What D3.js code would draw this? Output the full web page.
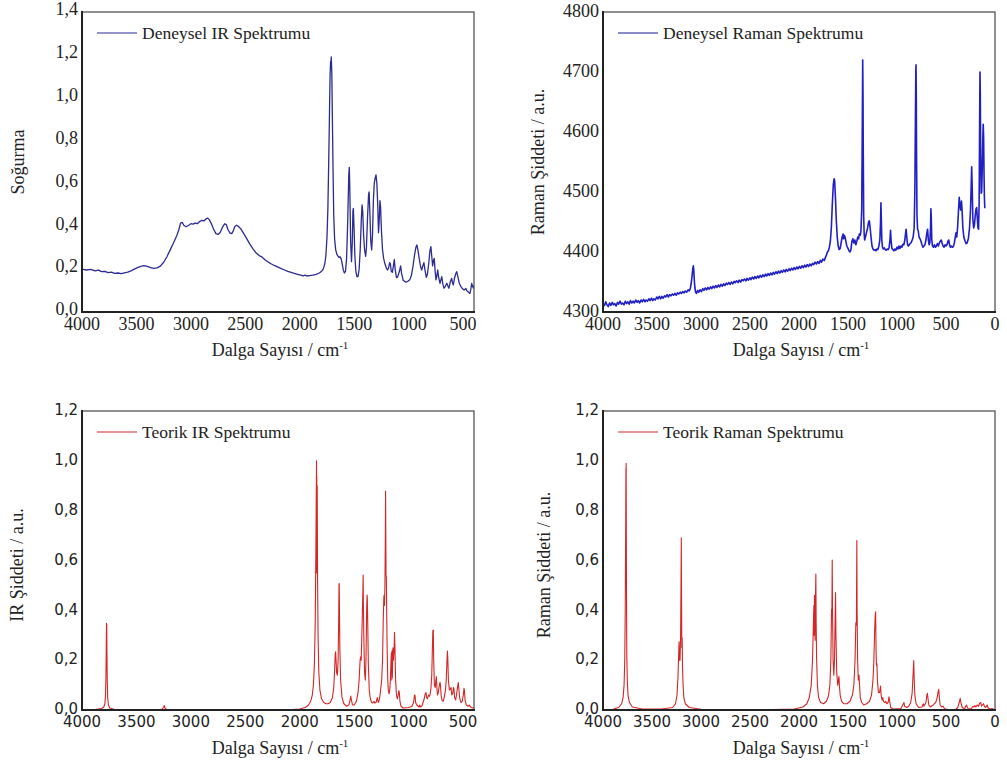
<!DOCTYPE html>
<html>
<head>
<meta charset="utf-8">
<script src="https://cdn.jsdelivr.net/npm/d3@7/dist/d3.min.js"></script>
<style>
  body { margin: 0; background: #fff; }
  svg { display: block; }
</style>
</head>
<body>
<svg id="chart" width="1007" height="767"></svg>
<script>
// ---- Spectra: [wavenumber (cm-1), intensity] ----
const irExp = [
  [4000,0.200],[3960,0.196],[3920,0.199],[3880,0.192],[3850,0.195],[3820,0.188],[3790,0.190],[3760,0.184],
  [3730,0.186],[3700,0.180],[3670,0.182],[3640,0.179],[3610,0.183],[3580,0.186],[3550,0.192],[3520,0.200],
  [3490,0.207],[3460,0.213],[3430,0.216],[3400,0.213],[3370,0.207],[3340,0.204],[3310,0.206],[3280,0.214],
  [3250,0.232],[3220,0.258],[3190,0.290],[3160,0.322],[3130,0.356],[3110,0.385],[3095,0.415],[3080,0.418],
  [3065,0.405],[3045,0.398],[3020,0.405],[3000,0.412],[2980,0.410],[2960,0.415],[2940,0.412],[2920,0.422],
  [2900,0.428],[2880,0.425],[2860,0.435],[2845,0.438],[2830,0.430],[2810,0.410],[2790,0.385],[2770,0.366],
  [2750,0.362],[2730,0.372],[2710,0.395],[2690,0.412],[2675,0.408],[2660,0.385],[2640,0.368],[2625,0.366],
  [2610,0.380],[2595,0.400],[2580,0.405],[2565,0.400],[2545,0.390],[2520,0.370],[2490,0.345],[2460,0.318],
  [2430,0.295],[2400,0.275],[2370,0.262],[2350,0.258],[2320,0.244],[2290,0.233],[2260,0.224],[2230,0.216],
  [2200,0.209],[2170,0.202],[2140,0.196],[2110,0.190],[2080,0.185],[2050,0.180],[2020,0.176],[1990,0.172],
  [1970,0.169],[1950,0.172],[1935,0.168],[1910,0.170],[1880,0.172],[1850,0.176],[1820,0.182],[1800,0.190],
  [1785,0.200],[1770,0.225],[1760,0.265],[1750,0.350],[1742,0.480],[1735,0.680],[1728,0.900],[1722,1.100],
  [1717,1.170],[1714,1.150],[1711,1.190],[1706,1.120],[1700,0.880],[1694,0.650],[1688,0.450],[1680,0.340],
  [1670,0.290],[1660,0.270],[1650,0.262],[1640,0.255],[1630,0.258],[1620,0.248],[1610,0.225],[1600,0.195],
  [1590,0.182],[1580,0.190],[1570,0.250],[1560,0.420],[1550,0.640],[1545,0.675],[1540,0.560],[1533,0.330],
  [1525,0.235],[1518,0.320],[1512,0.470],[1508,0.484],[1502,0.400],[1494,0.260],[1485,0.190],[1475,0.165],
  [1465,0.165],[1455,0.200],[1445,0.290],[1435,0.430],[1428,0.500],[1422,0.470],[1414,0.360],[1405,0.290],
  [1395,0.260],[1388,0.300],[1378,0.440],[1368,0.550],[1363,0.560],[1356,0.460],[1348,0.330],[1340,0.290],
  [1332,0.360],[1324,0.520],[1316,0.600],[1308,0.625],[1300,0.640],[1292,0.600],[1284,0.500],[1277,0.370],
  [1271,0.420],[1264,0.520],[1258,0.490],[1250,0.380],[1240,0.290],[1230,0.250],[1218,0.225],[1205,0.205],
  [1195,0.196],[1185,0.205],[1175,0.230],[1168,0.225],[1160,0.190],[1150,0.185],[1140,0.215],[1132,0.245],
  [1124,0.200],[1112,0.160],[1100,0.165],[1085,0.190],[1074,0.215],[1065,0.180],[1050,0.148],[1030,0.140],
  [1010,0.142],[990,0.150],[975,0.170],[960,0.215],[945,0.270],[932,0.305],[925,0.313],[915,0.290],
  [900,0.240],[890,0.210],[880,0.196],[870,0.215],[860,0.230],[850,0.195],[838,0.162],[828,0.175],
  [815,0.230],[805,0.285],[796,0.305],[788,0.260],[780,0.215],[772,0.240],[765,0.250],[757,0.190],
  [749,0.150],[741,0.170],[733,0.196],[724,0.160],[712,0.134],[704,0.150],[696,0.165],[686,0.130],
  [675,0.111],[663,0.120],[650,0.134],[640,0.122],[630,0.111],[618,0.140],[605,0.157],[597,0.135],
  [590,0.126],[578,0.160],[568,0.178],[559,0.188],[550,0.170],[535,0.134],[520,0.118],[505,0.108],
  [490,0.103],[475,0.110],[467,0.100],[455,0.095],[445,0.090],[437,0.087],[428,0.110],[421,0.134],
  [414,0.120],[405,0.111],[400,0.125]
];

const ramanExp = [
  [4000,4314],[3985,4311],[3972,4317],[3960,4312],[3946,4309],[3933,4315],[3920,4311],[3905,4316],
  [3893,4312],[3880,4314],[3866,4310],[3852,4316],[3840,4313],[3826,4318],[3812,4313],[3800,4315],
  [3786,4312],[3772,4318],[3760,4314],[3746,4317],[3733,4313],[3720,4319],[3706,4315],[3692,4318],
  [3680,4315],[3666,4320],[3652,4316],[3640,4319],[3626,4315],[3612,4320],[3600,4317],[3585,4321],
  [3572,4317],[3560,4320],[3546,4318],[3532,4322],[3520,4319],[3505,4323],[3492,4319],[3480,4322],
  [3466,4320],[3452,4325],[3440,4322],[3426,4326],[3412,4322],[3400,4326],[3386,4323],[3372,4327],
  [3360,4325],[3346,4329],[3332,4325],[3320,4329],[3306,4327],[3292,4330],[3280,4328],[3266,4331],
  [3252,4328],[3240,4332],[3226,4330],[3212,4333],[3200,4331],[3186,4334],[3172,4332],[3160,4335],
  [3146,4333],[3132,4337],[3120,4335],[3108,4340],[3098,4350],[3090,4362],[3084,4372],[3078,4377],
  [3073,4368],[3068,4352],[3062,4340],[3055,4333],[3046,4331],[3035,4336],[3022,4333],[3010,4337],
  [2996,4334],[2982,4339],[2970,4336],[2956,4340],[2942,4337],[2930,4341],[2916,4338],[2902,4342],
  [2890,4339],[2876,4343],[2862,4340],[2850,4344],[2836,4341],[2822,4345],[2810,4342],[2796,4346],
  [2782,4343],[2770,4347],[2756,4344],[2742,4348],[2730,4346],[2716,4349],[2702,4346],[2690,4350],
  [2676,4347],[2662,4351],[2650,4349],[2636,4352],[2622,4349],[2610,4353],[2596,4350],[2582,4354],
  [2570,4352],[2556,4355],[2542,4352],[2530,4356],[2516,4353],[2502,4357],[2490,4354],[2476,4358],
  [2462,4355],[2450,4359],[2436,4356],[2422,4360],[2410,4357],[2396,4361],[2382,4358],[2370,4362],
  [2356,4359],[2342,4363],[2330,4360],[2316,4364],[2302,4361],[2290,4365],[2276,4362],[2262,4366],
  [2250,4363],[2236,4367],[2222,4364],[2210,4368],[2196,4365],[2182,4369],[2170,4366],[2156,4370],
  [2142,4367],[2130,4371],[2116,4368],[2102,4372],[2090,4369],[2076,4373],[2062,4370],[2050,4374],
  [2036,4371],[2022,4375],[2010,4372],[1996,4376],[1982,4373],[1970,4377],[1956,4374],[1942,4378],
  [1930,4375],[1916,4379],[1902,4376],[1890,4380],[1876,4377],[1862,4381],[1850,4379],[1836,4383],
  [1822,4380],[1810,4384],[1796,4381],[1782,4386],[1770,4383],[1756,4388],[1742,4386],[1730,4391],
  [1720,4395],[1710,4400],[1700,4402],[1690,4408],[1680,4418],[1670,4440],[1660,4480],[1650,4512],
  [1642,4522],[1636,4518],[1628,4490],[1620,4455],[1610,4425],[1600,4410],[1590,4404],[1580,4406],
  [1570,4415],[1560,4425],[1550,4430],[1545,4422],[1538,4428],[1530,4425],[1522,4418],[1512,4410],
  [1500,4406],[1490,4402],[1480,4400],[1470,4404],[1460,4418],[1450,4422],[1440,4415],[1430,4420],
  [1420,4412],[1410,4418],[1400,4425],[1392,4422],[1385,4430],[1375,4428],[1368,4435],[1360,4470],
  [1356,4560],[1352,4660],[1350,4720],[1347,4665],[1344,4560],[1340,4460],[1335,4430],[1330,4420],
  [1322,4425],[1312,4432],[1300,4440],[1290,4450],[1282,4452],[1274,4440],[1265,4425],[1255,4410],
  [1245,4405],[1235,4403],[1225,4404],[1215,4402],[1205,4405],[1195,4404],[1185,4410],[1175,4420],
  [1168,4450],[1164,4482],[1160,4455],[1155,4420],[1148,4408],[1140,4405],[1130,4407],[1120,4404],
  [1110,4403],[1100,4405],[1090,4404],[1080,4408],[1072,4420],[1066,4436],[1060,4418],[1052,4406],
  [1042,4404],[1032,4402],[1022,4405],[1012,4403],[1000,4408],[990,4405],[980,4410],[970,4406],
  [960,4410],[950,4408],[940,4413],[930,4412],[920,4420],[912,4432],[907,4438],[900,4425],
  [892,4412],[884,4410],[875,4412],[865,4414],[855,4416],[845,4420],[835,4425],[825,4440],
  [818,4500],[812,4620],[808,4700],[806,4712],[803,4650],[800,4550],[796,4460],[790,4438],
  [783,4435],[775,4425],[765,4422],[755,4418],[745,4412],[735,4408],[725,4410],[715,4412],
  [705,4420],[695,4432],[688,4438],[680,4420],[672,4412],[665,4415],[658,4440],[654,4472],
  [650,4455],[645,4420],[638,4410],[628,4408],[618,4412],[608,4408],[598,4410],[588,4414],
  [578,4410],[568,4415],[558,4418],[548,4420],[540,4415],[530,4410],[520,4408],[510,4412],
  [500,4410],[490,4412],[480,4418],[472,4420],[464,4412],[455,4408],[445,4410],[435,4408],
  [425,4409],[415,4415],[405,4425],[398,4432],[390,4425],[382,4440],[372,4470],[365,4491],
  [358,4478],[350,4470],[342,4485],[336,4470],[328,4440],[318,4425],[305,4418],[295,4414],
  [285,4415],[272,4422],[260,4440],[250,4470],[243,4510],[238,4542],[233,4510],[226,4455],
  [218,4440],[210,4445],[202,4460],[194,4472],[187,4474],[180,4455],[174,4440],[168,4438],
  [162,4480],[158,4580],[155,4660],[153,4700],[150,4665],[146,4560],[141,4498],[136,4500],
  [130,4540],[124,4590],[120,4613],[116,4590],[112,4530],[108,4490],[104,4473]
];

const irTheo = [
  [4000,0],[3880,0.002],[3820,0.006],[3800,0.012],[3790,0.025],[3784,0.06],[3780,0.14],[3777,0.26],
  [3775,0.348],[3774,0.25],[3773,0.345],[3771,0.24],[3768,0.12],[3764,0.05],[3757,0.02],[3745,0.008],
  [3700,0.002],[3300,0.001],[3262,0.004],[3250,0.012],[3245,0.018],[3240,0.010],[3225,0.003],[3150,0.001],
  [2100,0.001],[2000,0.004],[1950,0.010],[1920,0.020],[1900,0.035],[1885,0.06],[1875,0.10],[1866,0.18],
  [1858,0.35],[1852,0.65],[1848,0.90],[1846,1.0],[1845,0.55],[1844,0.94],[1842,0.68],[1840,0.90],
  [1837,0.55],[1832,0.30],[1825,0.15],[1815,0.08],[1800,0.045],[1780,0.03],[1760,0.025],[1740,0.025],
  [1720,0.03],[1700,0.05],[1688,0.09],[1680,0.16],[1675,0.22],[1671,0.234],[1667,0.2],[1662,0.15],
  [1655,0.14],[1648,0.2],[1643,0.35],[1640,0.5],[1638,0.508],[1636,0.42],[1632,0.25],[1625,0.12],
  [1612,0.05],[1595,0.025],[1570,0.015],[1550,0.02],[1538,0.04],[1532,0.056],[1526,0.04],[1515,0.02],
  [1500,0.02],[1480,0.035],[1465,0.07],[1455,0.12],[1446,0.2],[1440,0.214],[1436,0.2],[1430,0.3],
  [1422,0.45],[1418,0.542],[1416,0.43],[1412,0.3],[1405,0.15],[1398,0.12],[1392,0.2],[1386,0.4],
  [1382,0.461],[1380,0.45],[1376,0.35],[1370,0.18],[1362,0.08],[1352,0.045],[1340,0.03],[1330,0.028],
  [1318,0.035],[1312,0.028],[1300,0.03],[1288,0.05],[1280,0.03],[1270,0.04],[1260,0.07],[1248,0.12],
  [1240,0.2],[1234,0.35],[1228,0.45],[1226,0.46],[1222,0.42],[1218,0.5],[1214,0.7],[1212,0.879],
  [1210,0.7],[1208,0.54],[1205,0.535],[1202,0.4],[1198,0.25],[1192,0.12],[1187,0.08],[1180,0.065],
  [1174,0.08],[1168,0.12],[1162,0.2],[1158,0.23],[1155,0.12],[1152,0.24],[1150,0.13],[1146,0.22],
  [1144,0.25],[1140,0.2],[1134,0.24],[1130,0.312],[1126,0.25],[1120,0.12],[1112,0.06],[1104,0.045],
  [1096,0.06],[1090,0.078],[1086,0.07],[1080,0.035],[1070,0.015],[1050,0.008],[1000,0.01],[970,0.015],
  [955,0.03],[946,0.06],[942,0.06],[936,0.03],[925,0.02],[905,0.012],[898,0.02],[893,0.012],
  [880,0.015],[860,0.04],[848,0.065],[841,0.07],[835,0.05],[828,0.045],[818,0.06],[810,0.055],
  [804,0.06],[795,0.09],[788,0.14],[782,0.25],[778,0.32],[776,0.27],[774,0.321],[770,0.2],
  [764,0.1],[756,0.09],[750,0.12],[746,0.134],[742,0.1],[736,0.06],[728,0.07],[718,0.1],
  [712,0.111],[708,0.1],[702,0.06],[694,0.04],[684,0.035],[674,0.05],[662,0.08],[655,0.12],
  [648,0.2],[644,0.237],[640,0.2],[635,0.12],[626,0.08],[618,0.085],[611,0.09],[604,0.06],
  [596,0.065],[589,0.09],[584,0.085],[578,0.05],[568,0.04],[558,0.07],[548,0.1],[544,0.11],
  [540,0.09],[532,0.05],[520,0.03],[508,0.035],[498,0.06],[492,0.087],[488,0.08],[482,0.04],
  [470,0.02],[455,0.015],[444,0.02],[437,0.015],[425,0.01],[410,0.008],[400,0.01]
];

const ramanTheo = [
  [4000,0],[3900,0.003],[3840,0.01],[3810,0.025],[3795,0.05],[3785,0.1],[3778,0.2],[3773,0.4],
  [3769,0.7],[3766,0.97],[3765,0.69],[3764,0.99],[3762,0.7],[3760,0.45],[3757,0.214],[3752,0.12],
  [3745,0.06],[3730,0.03],[3700,0.012],[3600,0.004],[3400,0.004],[3290,0.01],[3260,0.025],[3245,0.06],
  [3235,0.13],[3228,0.22],[3224,0.274],[3220,0.2],[3214,0.2],[3208,0.3],[3204,0.5],[3201,0.691],
  [3199,0.5],[3196,0.25],[3192,0.29],[3189,0.18],[3183,0.1],[3175,0.05],[3160,0.025],[3120,0.01],
  [3000,0.003],[2400,0.001],[2050,0.004],[1960,0.012],[1920,0.025],[1895,0.05],[1875,0.1],[1862,0.2],
  [1853,0.35],[1848,0.42],[1845,0.3],[1842,0.46],[1838,0.4],[1836,0.28],[1833,0.42],[1828,0.546],
  [1825,0.35],[1820,0.2],[1812,0.1],[1800,0.05],[1780,0.03],[1750,0.025],[1720,0.035],[1700,0.055],
  [1685,0.1],[1675,0.2],[1668,0.4],[1664,0.41],[1661,0.602],[1658,0.4],[1652,0.2],[1645,0.14],
  [1638,0.2],[1632,0.35],[1627,0.471],[1623,0.3],[1615,0.15],[1605,0.1],[1598,0.12],[1592,0.134],
  [1588,0.1],[1580,0.06],[1565,0.035],[1540,0.025],[1510,0.025],[1480,0.035],[1455,0.06],[1440,0.1],
  [1428,0.2],[1420,0.35],[1414,0.34],[1410,0.68],[1407,0.4],[1402,0.2],[1395,0.12],[1388,0.14],
  [1382,0.1],[1375,0.05],[1360,0.03],[1340,0.02],[1310,0.025],[1280,0.035],[1260,0.06],[1245,0.12],
  [1236,0.2],[1228,0.32],[1222,0.38],[1218,0.394],[1214,0.25],[1210,0.18],[1205,0.187],[1200,0.12],
  [1190,0.07],[1178,0.07],[1168,0.096],[1162,0.06],[1152,0.04],[1145,0.05],[1138,0.035],[1125,0.03],
  [1115,0.035],[1105,0.025],[1090,0.03],[1082,0.053],[1076,0.04],[1065,0.01],[1040,0.004],[960,0.006],
  [935,0.025],[929,0.03],[922,0.015],[900,0.01],[880,0.015],[860,0.03],[845,0.07],[835,0.15],
  [829,0.198],[825,0.13],[818,0.06],[805,0.025],[780,0.01],[745,0.012],[738,0.02],[731,0.025],
  [725,0.015],[705,0.03],[695,0.06],[690,0.067],[685,0.05],[675,0.02],[660,0.012],[640,0.018],
  [629,0.02],[620,0.025],[605,0.03],[590,0.05],[580,0.075],[574,0.083],[568,0.05],[560,0.02],
  [545,0.012],[530,0.015],[515,0.005],[480,0.002],[400,0.003],[380,0.01],[365,0.03],[355,0.047],
  [348,0.03],[335,0.01],[310,0.005],[300,0.015],[290,0.02],[282,0.01],[270,0.004],[240,0.006],
  [225,0.015],[215,0.012],[205,0.018],[196,0.012],[182,0.02],[168,0.015],[155,0.028],[145,0.03],
  [138,0.015],[128,0.02],[118,0.025],[108,0.015],[95,0.01],[80,0.02],[70,0.008],[50,0.004],
  [30,0.006],[10,0.002],[0,0.001]
];

// ---- Tick values ----
const irXTicks = [4000, 3500, 3000, 2500, 2000, 1500, 1000, 500];
const ramanXTicks = [4000, 3500, 3000, 2500, 2000, 1500, 1000, 500, 0];
const irExpYTicks = [0, 0.2, 0.4, 0.6, 0.8, 1.0, 1.2, 1.4];
const ramanExpYTicks = [4300, 4400, 4500, 4600, 4700, 4800];
const theoYTicks = [0, 0.2, 0.4, 0.6, 0.8, 1.0, 1.2];

// ---- Labels ----
const legendNames = ["Deneysel IR Spektrumu", "Deneysel Raman Spektrumu", "Teorik IR Spektrumu", "Teorik Raman Spektrumu"];
const yTitles = ["Soğurma", "Raman Şiddeti / a.u.", "IR Şiddeti / a.u.", "Raman Şiddeti / a.u."];
const xTitle = "Dalga Sayısı / cm";

const SERIF = '"Liberation Serif"';
const SANS = '"DejaVu Sans"';

const svg = d3.select("#chart");
const commaFmt = d => d3.format(".1f")(d).replace(".", ",");

const panels = [
  { data: irExp, xDomain: [4000, 400], yDomain: [0, 1.4], xTicks: irXTicks, yTicks: irExpYTicks,
    fmt: commaFmt, box: [82, 474, 12, 312], color: "#2b2b92", legendColor: "#7070b8",
    tickFont: SERIF, tickSize: 18, yShift: -3, xLabelY: 12, legend: legendNames[0],
    yTitle: yTitles[0], yTitleX: 18, yTitleY: 162, lw: 1.3 },
  { data: ramanExp, xDomain: [4000, 0], yDomain: [4300, 4800], xTicks: ramanXTicks, yTicks: ramanExpYTicks,
    fmt: d3.format("d"), box: [603, 995, 12, 312], color: "#1f1fc4", legendColor: "#6464b4",
    tickFont: SERIF, tickSize: 18, yShift: -1, xLabelY: 12, legend: legendNames[1],
    yTitle: yTitles[1], yTitleX: 538, yTitleY: 162, lw: 1.6 },
  { data: irTheo, xDomain: [4000, 400], yDomain: [0, 1.2], xTicks: irXTicks, yTicks: theoYTicks,
    fmt: commaFmt, box: [82, 474, 411, 710], color: "#d42626", legendColor: "#e07070",
    tickFont: SANS, tickSize: 15, yShift: -1, xLabelY: 12, legend: legendNames[2],
    yTitle: yTitles[2], yTitleX: 17, yTitleY: 565, lw: 1.1 },
  { data: ramanTheo, xDomain: [4000, 0], yDomain: [0, 1.2], xTicks: ramanXTicks, yTicks: theoYTicks,
    fmt: commaFmt, box: [603, 995, 411, 710], color: "#d42626", legendColor: "#e07070",
    tickFont: SANS, tickSize: 15, yShift: -1, xLabelY: 12, legend: legendNames[3],
    yTitle: yTitles[3], yTitleX: 544, yTitleY: 565, lw: 1.1 }
];

panels.forEach((p, i) => {
  const [x0, x1, y0, y1] = p.box;
  const x = d3.scaleLinear().domain(p.xDomain).range([x0, x1]);
  const y = d3.scaleLinear().domain(p.yDomain).range([y1, y0]);
  const g = svg.append("g");

  const clipId = "clip" + i;
  svg.append("clipPath").attr("id", clipId)
    .append("rect").attr("x", x0).attr("y", y0 - 1).attr("width", x1 - x0).attr("height", y1 - y0 + 1);

  // spectrum line
  const line = d3.line().x(d => x(d[0])).y(d => y(d[1]));
  g.append("path")
    .datum(p.data)
    .attr("clip-path", `url(#${clipId})`)
    .attr("fill", "none")
    .attr("stroke", p.color)
    .attr("stroke-width", p.lw)
    .attr("stroke-linejoin", "round")
    .attr("d", line);

  // frame: light top/right, dark left/bottom
  g.append("rect").attr("x", x0).attr("y", y0).attr("width", x1 - x0).attr("height", y1 - y0)
    .attr("fill", "none").attr("stroke", "#555").attr("stroke-width", 1.3);
  g.append("line").attr("x1", x0).attr("x2", x0).attr("y1", y0 - 1).attr("y2", y1 + 1)
    .attr("stroke", "#222").attr("stroke-width", 2);
  g.append("line").attr("x1", x0 - 1).attr("x2", x1 + 1).attr("y1", y1).attr("y2", y1)
    .attr("stroke", "#222").attr("stroke-width", 2);

  // y tick labels
  g.selectAll(".yt").data(p.yTicks).join("text")
    .attr("x", x0 - 4)
    .attr("y", d => y(d) + p.yShift)
    .attr("dy", "0.35em")
    .attr("text-anchor", "end")
    .style("font-family", p.tickFont)
    .style("font-size", p.tickSize + "px")
    .attr("fill", "#222")
    .text(p.fmt);

  // x tick labels
  g.selectAll(".xt").data(p.xTicks).join("text")
    .attr("x", d => x(d))
    .attr("y", y1 + p.xLabelY)
    .attr("dy", "0.35em")
    .attr("text-anchor", "middle")
    .style("font-family", p.tickFont)
    .style("font-size", p.tickSize + "px")
    .attr("fill", "#222")
    .text(d => d);

  // x axis title with superscript
  const xt = g.append("text")
    .attr("x", (x0 + x1) / 2 + 2)
    .attr("y", y1 + 44)
    .attr("text-anchor", "middle")
    .style("font-family", SERIF)
    .style("font-size", "18px")
    .attr("fill", "#222");
  xt.append("tspan").text(xTitle);
  xt.append("tspan").attr("dy", -7).style("font-size", "11px").text("-1");

  // y axis title
  g.append("text")
    .attr("transform", `translate(${p.yTitleX},${p.yTitleY}) rotate(-90)`)
    .attr("text-anchor", "middle")
    .attr("dy", "0.35em")
    .style("font-family", SERIF)
    .style("font-size", "18px")
    .attr("fill", "#222")
    .text(p.yTitle);

  // legend
  const ly = y0 + 21;
  g.append("line").attr("x1", x0 + 15).attr("x2", x0 + 55).attr("y1", ly).attr("y2", ly)
    .attr("stroke", p.legendColor).attr("stroke-width", 1.3);
  g.append("text")
    .attr("x", x0 + 60)
    .attr("y", ly)
    .attr("dy", "0.33em")
    .style("font-family", SERIF)
    .style("font-size", "17.5px")
    .attr("fill", "#222")
    .text(p.legend);
});
</script>
</body>
</html>
